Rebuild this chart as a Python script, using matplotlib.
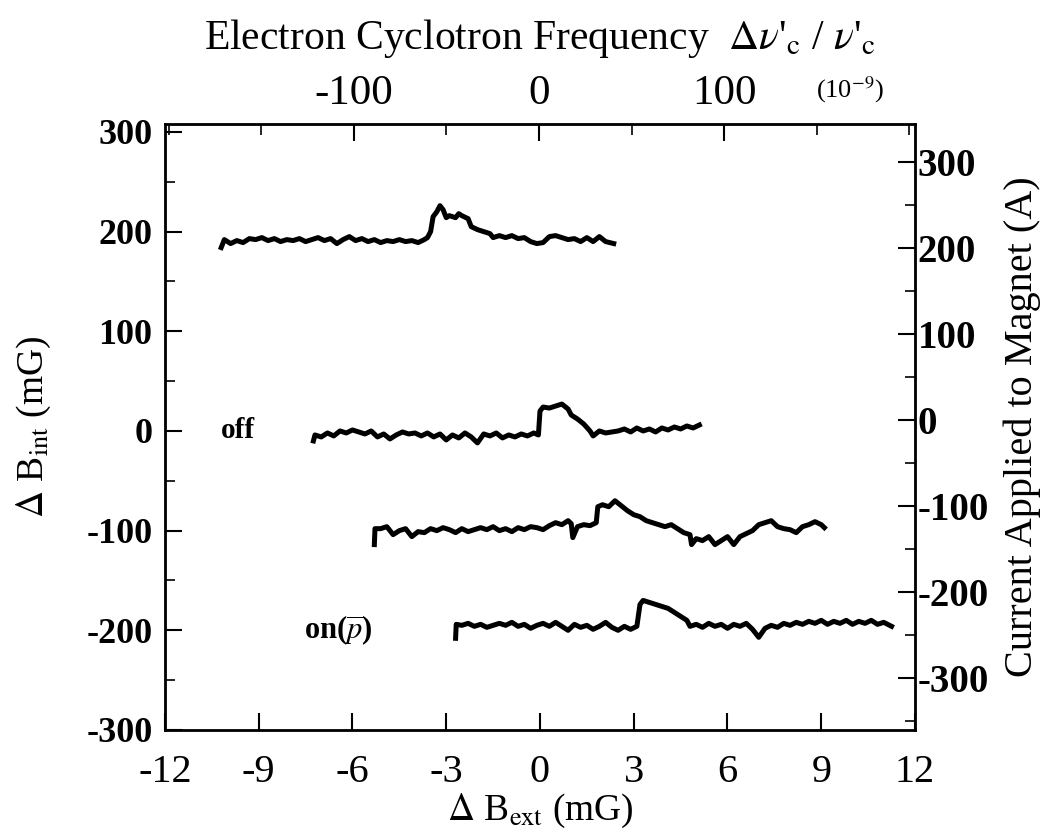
import numpy as np
import matplotlib
matplotlib.use('Agg')
import matplotlib.pyplot as plt
from matplotlib.ticker import MultipleLocator

plt.rcParams['font.family'] = ['Liberation Serif', 'DejaVu Serif']
plt.rcParams['mathtext.fontset'] = 'stix'

# trace data (Delta B_ext in mG, Delta B_int in mG)
x_top = [-10.2, -10.1, -9.9, -9.7, -9.5, -9.3, -9.1, -8.9, -8.7, -8.5, -8.3, -8.1, -7.9, -7.7,
         -7.5, -7.3, -7.1, -6.9, -6.7, -6.5, -6.3, -6.1, -5.9, -5.7, -5.5, -5.3, -5.1, -4.9,
         -4.7, -4.5, -4.3, -4.1, -3.9, -3.7, -3.6, -3.5, -3.42, -3.3, -3.2, -3.1, -3.0, -2.9,
         -2.7, -2.6, -2.5, -2.3, -2.2, -2.0, -1.8, -1.6, -1.5, -1.3, -1.1, -0.9, -0.7, -0.5,
         -0.3, -0.1, 0.1, 0.3, 0.5, 0.7, 0.9, 1.1, 1.3, 1.5, 1.7, 1.9, 2.1, 2.36]
y_top = [184, 192, 188, 191, 189, 193, 192, 194, 191, 193, 190, 192, 191, 193,
         190, 192, 194, 191, 193, 188, 192, 195, 191, 193, 190, 192, 189, 191,
         190, 192, 190, 191, 189, 192, 194, 200, 215, 220, 226, 222, 214, 216,
         214, 218, 216, 213, 205, 202, 200, 198, 194, 196, 194, 196, 193, 194,
         190, 188, 189, 195, 196, 194, 192, 193, 190, 194, 190, 195, 190, 188]

x_off = [-7.25, -7.2, -7.0, -6.8, -6.6, -6.4, -6.2, -6.0, -5.8, -5.6, -5.4, -5.2, -5.0, -4.8,
         -4.6, -4.4, -4.2, -4.0, -3.8, -3.6, -3.4, -3.2, -3.0, -2.8, -2.6, -2.4, -2.2, -2.0,
         -1.8, -1.6, -1.4, -1.2, -1.0, -0.8, -0.6, -0.4, -0.2, -0.05, 0.0, 0.1, 0.3, 0.5,
         0.7, 0.9, 1.0, 1.2, 1.4, 1.6, 1.7, 1.9, 2.1, 2.3, 2.5, 2.7, 2.9, 3.1, 3.3, 3.5,
         3.7, 3.9, 4.1, 4.3, 4.5, 4.7, 4.9, 5.1]
y_off = [-10, -4, -6, -2, -5, 0, -2, 1, -1, -3, 0, -6, -3, -8,
         -4, -1, -3, -2, -5, -2, -6, -3, -9, -4, -7, -2, -6, -12,
         -3, -5, -2, -7, -4, -6, -3, -5, -2, -4, 20, 24, 23, 25,
         27, 22, 16, 12, 7, 0, -5, 0, -2, -1, 0, 2, -1, 3, 0, 2,
         -1, 3, 1, 4, 2, 5, 3, 6]

x_mid = [-5.3, -5.28, -5.1, -4.9, -4.7, -4.5, -4.3, -4.1, -3.9, -3.7, -3.5, -3.3, -3.1, -2.9,
         -2.7, -2.5, -2.3, -2.1, -1.9, -1.7, -1.5, -1.3, -1.1, -0.9, -0.7, -0.5, -0.3, -0.1,
         0.1, 0.3, 0.5, 0.7, 0.9, 1.0, 1.05, 1.2, 1.4, 1.6, 1.8, 1.85, 2.0, 2.2, 2.4, 2.6,
         2.8, 3.0, 3.2, 3.4, 3.6, 3.8, 4.0, 4.2, 4.4, 4.6, 4.8, 4.85, 5.0, 5.2, 5.4, 5.6,
         5.8, 6.0, 6.2, 6.4, 6.6, 6.8, 7.0, 7.2, 7.4, 7.6, 7.8, 8.0, 8.2, 8.4, 8.6, 8.8,
         9.0, 9.1]
y_mid = [-114, -98, -98, -96, -104, -100, -98, -106, -101, -102, -98, -100, -97, -99,
         -102, -98, -101, -99, -97, -99, -96, -100, -98, -101, -97, -99, -96, -97,
         -99, -95, -92, -94, -90, -93, -107, -96, -94, -95, -92, -76, -74, -76, -70, -75,
         -80, -84, -86, -90, -92, -94, -96, -94, -98, -102, -104, -114, -108, -110, -106, -114,
         -110, -106, -114, -106, -103, -100, -94, -92, -90, -96, -98, -99, -102, -96, -94, -91,
         -94, -97]

x_on = [-2.7, -2.68, -2.5, -2.3, -2.1, -1.9, -1.7, -1.5, -1.3, -1.1, -0.9, -0.7, -0.5, -0.3,
        -0.1, 0.1, 0.3, 0.5, 0.7, 0.9, 1.1, 1.3, 1.5, 1.7, 1.9, 2.1, 2.3, 2.5, 2.7, 2.9,
        3.1, 3.2, 3.3, 3.5, 3.7, 3.9, 4.1, 4.3, 4.5, 4.7, 4.8, 5.0, 5.2, 5.4, 5.6, 5.8,
        6.0, 6.2, 6.4, 6.6, 6.8, 7.0, 7.2, 7.4, 7.6, 7.8, 8.0, 8.2, 8.4, 8.6, 8.8, 9.0,
        9.2, 9.4, 9.6, 9.8, 10.0, 10.2, 10.4, 10.6, 10.8, 11.0, 11.25]
y_on = [-208, -194, -195, -193, -196, -194, -197, -195, -193, -195, -192, -196, -194, -198,
        -195, -193, -196, -192, -196, -200, -194, -197, -195, -199, -196, -192, -197, -200, -196, -199,
        -196, -174, -170, -172, -174, -176, -178, -182, -186, -190, -196, -194, -197, -193, -196, -194,
        -198, -194, -196, -193, -199, -207, -198, -195, -197, -193, -195, -192, -194, -191, -193, -190,
        -194, -191, -193, -190, -194, -191, -193, -190, -194, -192, -196]

traces = [(x_top, y_top), (x_off, y_off), (x_mid, y_mid), (x_on, y_on)]

fig = plt.figure(figsize=(10.48, 8.32), dpi=100)
ax = fig.add_axes([0.1574, 0.1226, 0.7157, 0.7284])

for xs, ys in traces:
    ax.plot(xs, ys, color='black', lw=3.6, solid_joinstyle='round')

ax.set_xlim(-12, 12)
ax.set_ylim(-300, 308)
ax.yaxis.set_minor_locator(MultipleLocator(50))
ax.set_yticks([-300, -200, -100, 0, 100, 200, 300])
ax.set_yticklabels(['-300', '-200', '-100', '0', '100', '200', '300'],
                   fontsize=26, fontweight='bold')
ax.set_xticks([-12, -9, -6, -3, 0, 3, 6, 9, 12])
ax.set_xticklabels(['-12', '-9', '-6', '-3', '0', '3', '6', '9', '12'], fontsize=29)
ax.tick_params(axis='y', which='major', direction='in', length=12, width=1.5, pad=9)
ax.tick_params(axis='x', which='major', direction='in', length=12, width=1.5, pad=17)
ax.tick_params(axis='y', which='minor', direction='in', length=7, width=1.2)
for s in ax.spines.values():
    s.set_linewidth(2)

ax.set_xlabel(r'$\Delta$ B$_{\rm ext}$ (mG)', fontsize=27, labelpad=1)
ax.set_ylabel(r'$\Delta$ B$_{\rm int}$ (mG)', fontsize=27, labelpad=24)

ax.text(-10.2, 0, 'off', fontsize=21, fontweight='bold', va='center', ha='left')
ax.text(-7.55, -200, r'on($\overline{p}$)', fontsize=22, fontweight='bold', va='center', ha='left')

# right axis: current applied to magnet
axr = ax.twinx()
axr.set_ylim(-360, 344)
axr.set_yticks([-300, -200, -100, 0, 100, 200, 300])
axr.set_yticklabels(['-300', '-200', '-100', '0', '100', '200', '300'],
                    fontsize=28, fontweight='bold')
axr.yaxis.set_minor_locator(MultipleLocator(50))
axr.tick_params(axis='y', which='major', direction='in', length=12, width=1.5, pad=2)
axr.tick_params(axis='y', which='minor', direction='in', length=7, width=1.2)
axr.set_ylabel('Current Applied to Magnet (A)', fontsize=29, labelpad=10)

# top axis: electron cyclotron frequency
axt = ax.twiny()
axt.set_xlim(-202, 203)
axt.set_xticks([-100, 0, 100])
axt.set_xticklabels(['-100', '0', '100'], fontsize=31)
axt.xaxis.set_minor_locator(MultipleLocator(50))
axt.tick_params(axis='x', which='major', direction='in', length=12, width=1.5, pad=8)
axt.tick_params(axis='x', which='minor', direction='in', length=8, width=1.2)
axt.set_xlabel(r"Electron Cyclotron Frequency  $\Delta\nu$'$_{\rm c}$ / $\nu$'$_{\rm c}$",
               fontsize=30, labelpad=18)
fig.text(850 / 1048, 1 - 90 / 832, r'(10$^{-9}$)', fontsize=19, ha='center', va='center')

fig.savefig('out.png', dpi=100)
